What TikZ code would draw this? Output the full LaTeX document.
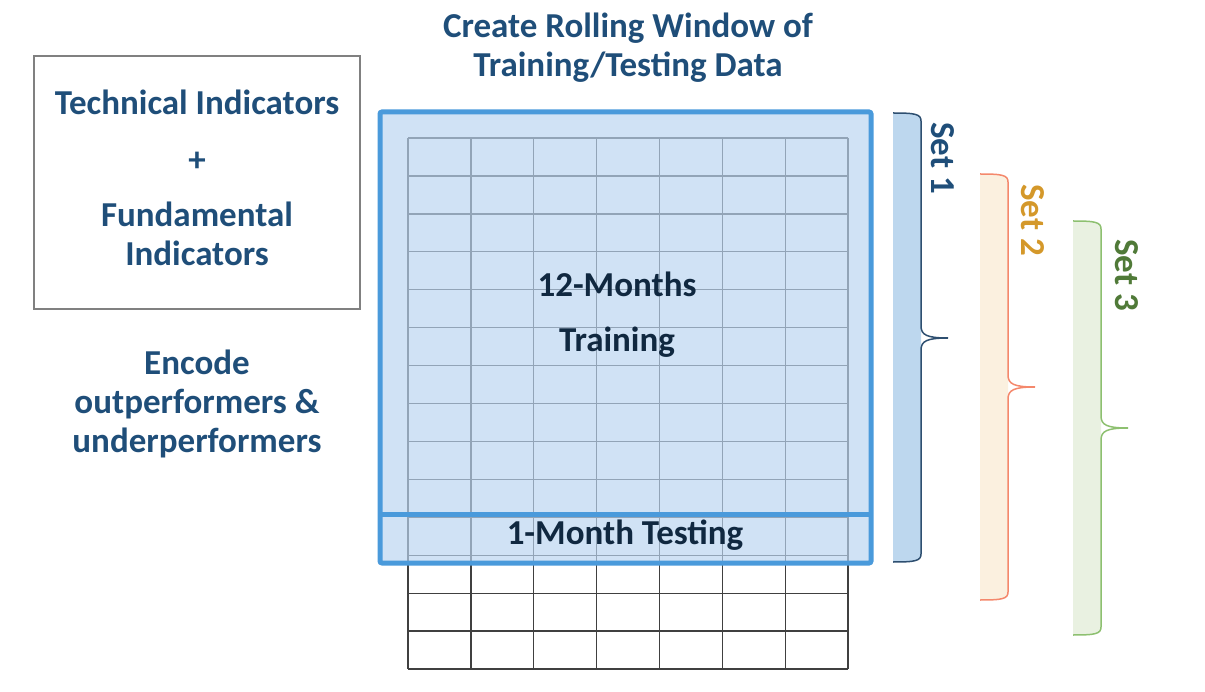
\documentclass[tikz,border=0pt]{standalone}
\usepackage{fontspec}
\setmainfont{Carlito}
\usetikzlibrary{positioning}
\definecolor{navy}{RGB}{31,78,121}
\definecolor{deepnavy}{RGB}{16,40,64}
\definecolor{winblue}{RGB}{74,154,219}
\definecolor{winfillc}{RGB}{186,212,240}
\definecolor{oneline}{RGB}{46,79,112}
\definecolor{onefill}{RGB}{189,215,238}
\definecolor{twoline}{RGB}{244,136,108}
\definecolor{twofill}{RGB}{251,240,223}
\definecolor{twotext}{RGB}{212,152,42}
\definecolor{threeline}{RGB}{141,192,112}
\definecolor{threefill}{RGB}{233,241,225}
\definecolor{threetext}{RGB}{80,122,56}
\tikzset{
	gridline/.style={draw=black!75, line width=1.3pt},
	winframe/.style={draw=winblue, line width=5pt, rounded corners=2pt},
	winshade/.style={fill=winfillc, fill opacity=0.68},
	inbox/.style={draw=black!50, line width=1.2pt},
	label/.style={
		text=navy,
		align=center,
		font=\bfseries\fontsize{35}{39}\selectfont},
	inlabel/.style={label, text=deepnavy},
	setlabel/.style={label, rotate=-90},
	onebrace/.style={fill=onefill, draw=oneline},
	twobrace/.style={fill=twofill, draw=twoline},
	threebrace/.style={fill=threefill, draw=threeline},
}
% #1 style, #2 left x, #3 right x, #4 top y, #5 tip y, #6 bottom y, #7 tip x
\newcommand{\rollbrace}[7]{%
	\path[#1, draw=none] (#2,#4) .. controls (#3-6,#4) and (#3,#4+1) .. (#3,#4+8)
		-- (#3,#6-8) .. controls (#3,#6-1) and (#3-6,#6) .. (#2,#6) -- cycle;
	\path[#1, fill=none, line width=1.5pt] (#2,#4) .. controls (#3-6,#4) and (#3,#4+1) .. (#3,#4+8)
		-- (#3,#5-12) .. controls (#3,#5-3) and (#3+6,#5) .. (#7,#5)
		.. controls (#3+6,#5) and (#3,#5+3) .. (#3,#5+12)
		-- (#3,#6-8) .. controls (#3,#6-1) and (#3-6,#6) .. (#2,#6);
}

\begin{document}
\begin{tikzpicture}[x=1pt, y=-1pt]
	\useasboundingbox (0,0) rectangle (1205,692);

	% data grid
	\foreach \i in {0,...,7}
		\draw[gridline] (408+\i*62.857,138) -- (408+\i*62.857,669);
	\foreach \j in {0,...,14}
		\draw[gridline] (408,138+\j*37.93) -- (848,138+\j*37.93);

	% rolling window
	\fill[winshade] (380,112) rectangle (871,563);
	\draw[winframe] (380,112) rectangle (871,563);
	\draw[winframe] (380,514) -- (871,514);

	\node[label] (head) at (628,48) {Create Rolling Window of\\Training/Testing Data};
	\node[inlabel] (train) at (617,315) {12-Months\\[16pt]Training};
	\node[inlabel] (test) at (625,535) {1-Month Testing};

	% inputs
	\draw[inbox] (34,56) rectangle (360,309);
	\node[label] (feat) at (197,178) {Technical Indicators\\[18pt]+\\[16pt]Fundamental\\Indicators};
	\node[label] (enc) at (197,404) {Encode\\outperformers \&\\underperformers};

	% sets
	\rollbrace{onebrace}{893}{921}{113}{338}{562}{948}
	\rollbrace{twobrace}{980}{1008}{174}{387}{600}{1035}
	\rollbrace{threebrace}{1073}{1101}{221}{428}{635}{1128}
	\node[setlabel] (one) at (943,158) {Set 1};
	\node[setlabel, text=twotext] (two) at (1033,220) {Set 2};
	\node[setlabel, text=threetext] (three) at (1127,275) {Set 3};
\end{tikzpicture}
\end{document}
